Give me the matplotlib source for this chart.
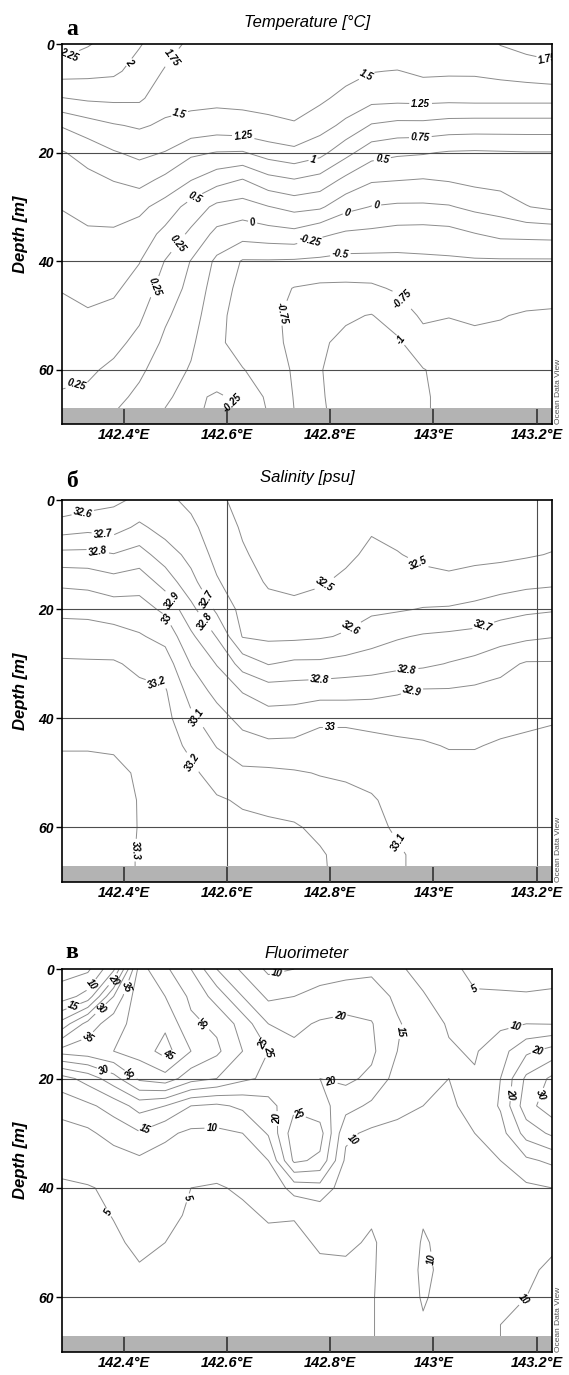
import numpy as np
import matplotlib.pyplot as plt

plt.rcParams['font.family'] = ['Liberation Sans', 'DejaVu Sans']

# узлы разреза: долгота и глубина
lons = [142.28, 142.33, 142.38, 142.43, 142.48, 142.53, 142.58, 142.63, 142.68, 142.73,
        142.78, 142.83, 142.88, 142.93, 142.98, 143.03, 143.08, 143.13, 143.18, 143.23]
depths = [0, 5, 10, 15, 20, 25, 30, 35, 40, 45, 50, 55, 60, 65, 70]

# температура, строки - глубины
temperature = [
    [2.40, 2.27, 2.15, 2.02, 1.85, 1.70, 1.68, 1.66, 1.63, 1.62, 1.64, 1.70, 1.72, 1.73, 1.66, 1.60, 1.62, 1.76, 1.83, 1.88],
    [2.11, 2.08, 2.05, 1.90, 1.73, 1.63, 1.62, 1.61, 1.60, 1.58, 1.60, 1.60, 1.51, 1.49, 1.55, 1.54, 1.54, 1.58, 1.62, 1.66],
    [1.74, 1.79, 1.80, 1.79, 1.60, 1.56, 1.56, 1.56, 1.56, 1.55, 1.55, 1.42, 1.33, 1.32, 1.33, 1.32, 1.33, 1.33, 1.33, 1.33],
    [1.27, 1.39, 1.48, 1.53, 1.46, 1.43, 1.39, 1.42, 1.46, 1.49, 1.35, 1.19, 0.98, 0.93, 0.93, 0.89, 0.88, 0.88, 0.88, 0.88],
    [0.98, 1.10, 1.23, 1.31, 1.24, 1.05, 0.99, 0.98, 1.11, 1.18, 1.08, 0.83, 0.60, 0.54, 0.52, 0.48, 0.47, 0.48, 0.49, 0.49],
    [0.87, 0.93, 1.01, 1.09, 0.94, 0.76, 0.60, 0.49, 0.67, 0.74, 0.66, 0.44, 0.28, 0.26, 0.24, 0.27, 0.32, 0.35, 0.38, 0.40],
    [0.76, 0.82, 0.84, 0.81, 0.65, 0.40, 0.19, 0.14, 0.24, 0.33, 0.29, 0.08, -0.01, -0.04, -0.04, -0.02, 0.06, 0.11, 0.24, 0.30],
    [0.68, 0.72, 0.72, 0.64, 0.43, 0.20, -0.07, -0.15, -0.11, -0.08, -0.20, -0.29, -0.31, -0.35, -0.36, -0.34, -0.26, -0.19, -0.18, -0.17],
    [0.60, 0.64, 0.62, 0.51, 0.24, -0.01, -0.30, -0.52, -0.52, -0.53, -0.55, -0.58, -0.58, -0.57, -0.55, -0.54, -0.53, -0.53, -0.53, -0.53],
    [0.51, 0.55, 0.54, 0.40, 0.14, -0.07, -0.37, -0.58, -0.65, -0.76, -0.80, -0.80, -0.79, -0.72, -0.63, -0.65, -0.63, -0.63, -0.65, -0.66],
    [0.45, 0.48, 0.43, 0.29, 0.04, -0.14, -0.42, -0.62, -0.70, -0.80, -0.90, -0.97, -1.01, -0.88, -0.71, -0.74, -0.72, -0.74, -0.77, -0.78],
    [0.38, 0.40, 0.32, 0.18, -0.05, -0.21, -0.45, -0.60, -0.68, -0.80, -0.97, -1.05, -1.08, -1.04, -0.84, -0.85, -0.80, -0.80, -0.82, -0.82],
    [0.30, 0.29, 0.20, 0.05, -0.14, -0.27, -0.38, -0.49, -0.60, -0.78, -0.99, -1.08, -1.10, -1.06, -1.01, -0.92, -0.84, -0.84, -0.85, -0.85],
    [0.23, 0.20, 0.08, -0.06, -0.23, -0.30, -0.22, -0.30, -0.55, -0.76, -0.98, -1.08, -1.10, -1.05, -1.02, -0.95, -0.86, -0.86, -0.86, -0.86],
    [0.20, 0.15, -0.05, -0.12, -0.28, -0.30, -0.15, -0.22, -0.49, -0.74, -0.97, -1.06, -1.08, -1.03, -1.02, -0.95, -0.86, -0.86, -0.86, -0.86],
]

# соленость
salinity = [
    [32.52, 32.55, 32.58, 32.62, 32.62, 32.58, 32.52, 32.47, 32.44, 32.44, 32.45, 32.46, 32.47, 32.45, 32.44, 32.44, 32.45, 32.45, 32.44, 32.44],
    [32.65, 32.67, 32.66, 32.72, 32.66, 32.62, 32.55, 32.49, 32.45, 32.45, 32.46, 32.47, 32.49, 32.47, 32.46, 32.45, 32.46, 32.46, 32.46, 32.46],
    [32.83, 32.83, 32.805, 32.84, 32.75, 32.67, 32.57, 32.51, 32.47, 32.46, 32.47, 32.48, 32.52, 32.505, 32.48, 32.47, 32.48, 32.48, 32.49, 32.505],
    [32.98, 32.97, 32.94, 32.96, 32.86, 32.73, 32.61, 32.54, 32.49, 32.48, 32.49, 32.52, 32.55, 32.55, 32.53, 32.52, 32.53, 32.55, 32.57, 32.58],
    [33.07, 33.07, 33.05, 33.04, 32.98, 32.83, 32.68, 32.57, 32.53, 32.52, 32.54, 32.56, 32.58, 32.59, 32.605, 32.61, 32.63, 32.66, 32.68, 32.69],
    [33.16, 33.15, 33.14, 33.11, 33.07, 32.92, 32.795, 32.595, 32.58, 32.58, 32.59, 32.61, 32.66, 32.69, 32.71, 32.72, 32.73, 32.76, 32.78, 32.795],
    [33.21, 33.21, 33.21, 33.18, 33.15, 32.995, 32.895, 32.76, 32.695, 32.72, 32.72, 32.74, 32.75, 32.77, 32.78, 32.805, 32.83, 32.87, 32.91, 32.91],
    [33.23, 33.23, 33.23, 33.22, 33.21, 33.06, 32.97, 32.895, 32.85, 32.85, 32.86, 32.86, 32.87, 32.89, 32.91, 32.91, 32.92, 32.93, 32.94, 32.95],
    [33.27, 33.27, 33.26, 33.25, 33.23, 33.12, 33.04, 32.97, 32.94, 32.95, 32.98, 32.98, 32.97, 32.96, 32.96, 32.96, 32.96, 32.97, 32.98, 32.99],
    [33.295, 33.295, 33.29, 33.28, 33.24, 33.18, 33.095, 33.04, 33.02, 33.02, 33.04, 33.04, 33.03, 33.02, 33.01, 32.995, 32.995, 33.01, 33.02, 33.03],
    [33.32, 33.32, 33.32, 33.29, 33.25, 33.22, 33.16, 33.12, 33.12, 33.11, 33.095, 33.09, 33.07, 33.05, 33.04, 33.03, 33.03, 33.04, 33.05, 33.06],
    [33.33, 33.33, 33.34, 33.295, 33.26, 33.24, 33.21, 33.19, 33.17, 33.16, 33.14, 33.12, 33.11, 33.07, 33.06, 33.05, 33.05, 33.06, 33.07, 33.07],
    [33.34, 33.34, 33.35, 33.295, 33.27, 33.25, 33.23, 33.22, 33.22, 33.21, 33.18, 33.15, 33.12, 33.09, 33.07, 33.06, 33.06, 33.07, 33.08, 33.08],
    [33.35, 33.35, 33.35, 33.29, 33.28, 33.26, 33.24, 33.23, 33.23, 33.22, 33.21, 33.17, 33.13, 33.11, 33.08, 33.07, 33.07, 33.08, 33.09, 33.09],
    [33.35, 33.35, 33.35, 33.29, 33.28, 33.26, 33.24, 33.23, 33.23, 33.22, 33.21, 33.18, 33.13, 33.11, 33.08, 33.07, 33.07, 33.08, 33.09, 33.09],
]

# флуоресценция
fluorescence = [
    [3, 4, 14, 42, 36, 30, 20, 14, 9, 10, 12, 13, 14, 11, 8, 5.5, 4.5, 4, 4, 4],
    [7.5, 12, 30, 44, 40, 34, 28, 20, 14, 15, 17, 18, 17.5, 14, 10.5, 7, 5.2, 5.3, 5.2, 5.4],
    [22, 32, 38, 42, 44, 36, 34, 28, 20, 19, 20.5, 21, 20.3, 15.5, 12.5, 9.5, 7.5, 9, 10, 9.8],
    [37, 38, 40, 42, 47, 40, 36, 30, 25, 21, 22, 22, 21, 15, 12.5, 10.5, 9.5, 13, 19, 22],
    [18, 22, 28, 36, 38, 32, 30, 26, 24, 21, 20, 21, 19, 13, 11, 10, 10.5, 15, 26, 31],
    [12, 14, 17, 22, 20, 15, 14, 16, 18, 24, 22, 17, 14, 11, 10, 9.5, 11, 15.5, 28, 33],
    [8, 9, 12, 14.5, 11, 9, 9, 10, 15.5, 28, 27, 11, 9, 9, 9, 9, 10, 13, 22, 26],
    [6, 6.5, 7.5, 9, 8, 6.5, 6, 6.5, 10, 26, 24, 9, 7.5, 8, 8.5, 8.5, 8.5, 10, 14, 16],
    [4.5, 4.8, 5.5, 6.5, 6.5, 5.0, 4.8, 5.3, 6, 12, 13, 7.5, 6.5, 7, 8.5, 8, 7.5, 8, 9, 10],
    [4, 4.3, 5.1, 6, 6, 4.5, 4.2, 4.6, 5.2, 5.1, 7, 6.5, 5.2, 6, 9.5, 8, 7, 7.5, 8, 9],
    [3.8, 4, 4.6, 5.5, 5.0, 4.2, 4, 4.2, 4.5, 4.6, 5.2, 5.3, 4.8, 5.8, 10.5, 8.5, 7, 8, 8.5, 9.5],
    [3.8, 4, 4.3, 4.8, 4.5, 4.2, 4, 4, 4.2, 4.3, 4.7, 4.7, 4.8, 6, 11, 8.5, 7.5, 9, 9.5, 10.5],
    [3.8, 4, 4.2, 4.5, 4.5, 4.2, 4, 4, 4.2, 4.2, 4.5, 4.6, 4.8, 6.5, 10.5, 8, 8, 10, 10, 11],
    [3.8, 4, 4.2, 4.5, 4.5, 4.2, 4, 4, 4.2, 4.2, 4.5, 4.6, 4.8, 6.5, 9.5, 7.5, 8, 10, 10.5, 11],
    [3.8, 4, 4.2, 4.5, 4.5, 4.2, 4, 4, 4.2, 4.2, 4.5, 4.6, 4.8, 6.5, 9, 7.5, 8, 10, 10.5, 11],
]

temp_levels = [-1, -0.75, -0.5, -0.25, 0, 0.25, 0.5, 0.75, 1, 1.25, 1.5, 1.75, 2, 2.25]
sal_levels = [32.5, 32.6, 32.7, 32.8, 32.9, 33.0, 33.1, 33.2, 33.3]
fluor_levels = [5, 10, 15, 20, 25, 30, 35, 40, 45]

xtick_values = [142.4, 142.6, 142.8, 143.0, 143.2]
xtick_labels = ['142.4°E', '142.6°E', '142.8°E', '143°E', '143.2°E']
ytick_values = [0, 20, 40, 60]

# где подписаны изолинии на исходном рисунке
temp_label_pos = [(142.295, 2.5), (142.43, 4.8), (142.5, 3), (142.51, 13.6), (142.63, 17.6),
                  (142.87, 5.7), (142.975, 11.8), (142.975, 18.2), (143.22, 3.3), (142.77, 22.6),
                  (142.9, 20.7), (142.53, 27), (142.83, 30), (142.89, 30), (142.65, 32.6),
                  (142.76, 36), (142.82, 39), (142.44, 44), (142.52, 37.8), (142.72, 50),
                  (142.94, 47), (142.93, 55), (142.31, 63.5), (142.63, 64.5)]
sal_label_pos = [(142.32, 2.2), (142.36, 5.5), (142.35, 9), (142.485, 19), (142.48, 22),
                 (142.57, 17.7), (142.56, 22), (142.8, 17), (142.97, 11.5), (142.85, 25),
                 (143.1, 24), (142.78, 33.3), (142.95, 32), (142.96, 36), (142.8, 41),
                 (142.46, 34.4), (142.54, 40), (142.52, 48.8), (142.935, 62.5), (142.4, 64)]
fluor_label_pos = [(142.33, 2.4), (142.3, 6.3), (142.38, 2), (142.41, 3.5), (142.36, 7.8),
                   (142.56, 9.7), (142.485, 15.7), (142.34, 13.3), (142.36, 18.8), (142.41, 19.7),
                   (142.44, 28.9), (142.57, 28), (142.66, 14.2), (142.7, 14.4), (142.7, 2),
                   (142.82, 9), (142.94, 11.5), (143.07, 5.7), (143.16, 10.8), (143.2, 14.2),
                   (142.8, 20.7), (143.14, 22.7), (143.22, 23.4), (142.7, 27.3), (142.74, 26.4),
                   (142.84, 30.9), (142.37, 44.5), (142.54, 42.3), (142.995, 53), (143.18, 60.8)]


def fmt_level(v):
    return f'{round(v, 2):g}'


def draw_section(ax, field, levels, label_pos, title, title_pad, vlines=()):
    X, Y = np.meshgrid(lons, depths)
    cs = ax.contour(X, Y, np.array(field), levels=levels, colors='#8c8c8c',
                    linewidths=0.7, negative_linestyles='solid', zorder=1)
    texts = ax.clabel(cs, fmt=fmt_level, fontsize=7, colors='black', inline=True,
                      inline_spacing=2, manual=label_pos)
    for t in texts:
        t.set_fontweight('bold')
        t.set_fontstyle('italic')

    # линии сетки
    for d in [20, 40, 60]:
        ax.axhline(d, color='#4d4d4d', lw=0.8, zorder=1.8)
    for x in vlines:
        ax.axvline(x, color='#4d4d4d', lw=0.8, zorder=1.8)

    # дно
    ax.axhspan(67, 70, facecolor='#b3b3b3', edgecolor='none', zorder=2)

    ax.set_xlim(142.28, 143.23)
    ax.set_ylim(70, 0)
    ax.set_axisbelow(False)
    ax.set_xticks(xtick_values)
    ax.set_xticklabels(xtick_labels)
    ax.set_yticks(ytick_values)
    ax.tick_params(axis='x', direction='in', length=10.5, width=1.2, color='#333333',
                   labelsize=10.5, pad=3)
    ax.tick_params(axis='y', direction='out', length=4, width=1.0, labelsize=10, pad=2)
    for lab in ax.get_xticklabels() + ax.get_yticklabels():
        lab.set_fontweight('bold')
        lab.set_fontstyle('italic')
    for sp in ax.spines.values():
        sp.set_linewidth(1.2)

    ax.set_ylabel('Depth [m]', fontsize=12, fontweight='bold', fontstyle='italic')
    ax.yaxis.set_label_coords(-0.07, 0.5)
    ax.set_title(title, fontsize=12, fontstyle='italic', pad=title_pad)
    ax.text(1.007, 0.0, 'Ocean Data View', transform=ax.transAxes, rotation=90,
            ha='left', va='bottom', fontsize=6, color='#555555')


fig = plt.figure(figsize=(5.69, 13.75), dpi=100)

ax1 = fig.add_axes([0.109, 0.6916, 0.8612, 0.2764])
draw_section(ax1, temperature, temp_levels, temp_label_pos, 'Temperature [°C]', 12)

ax2 = fig.add_axes([0.109, 0.3585, 0.8612, 0.2778])
draw_section(ax2, salinity, sal_levels, sal_label_pos, 'Salinity [psu]', 13, vlines=[142.6, 143.2])

ax3 = fig.add_axes([0.109, 0.0167, 0.8612, 0.2785])
draw_section(ax3, fluorescence, fluor_levels, fluor_label_pos, 'Fluorimeter', 8)

# буквы панелей
for letter, y in [('а', 0.9745), ('б', 0.646), ('в', 0.3033)]:
    fig.text(0.1265, y, letter, ha='center', va='baseline', fontsize=17,
             fontweight='bold', family=['Liberation Serif', 'DejaVu Serif'])

fig.savefig('out.png', dpi=100)
